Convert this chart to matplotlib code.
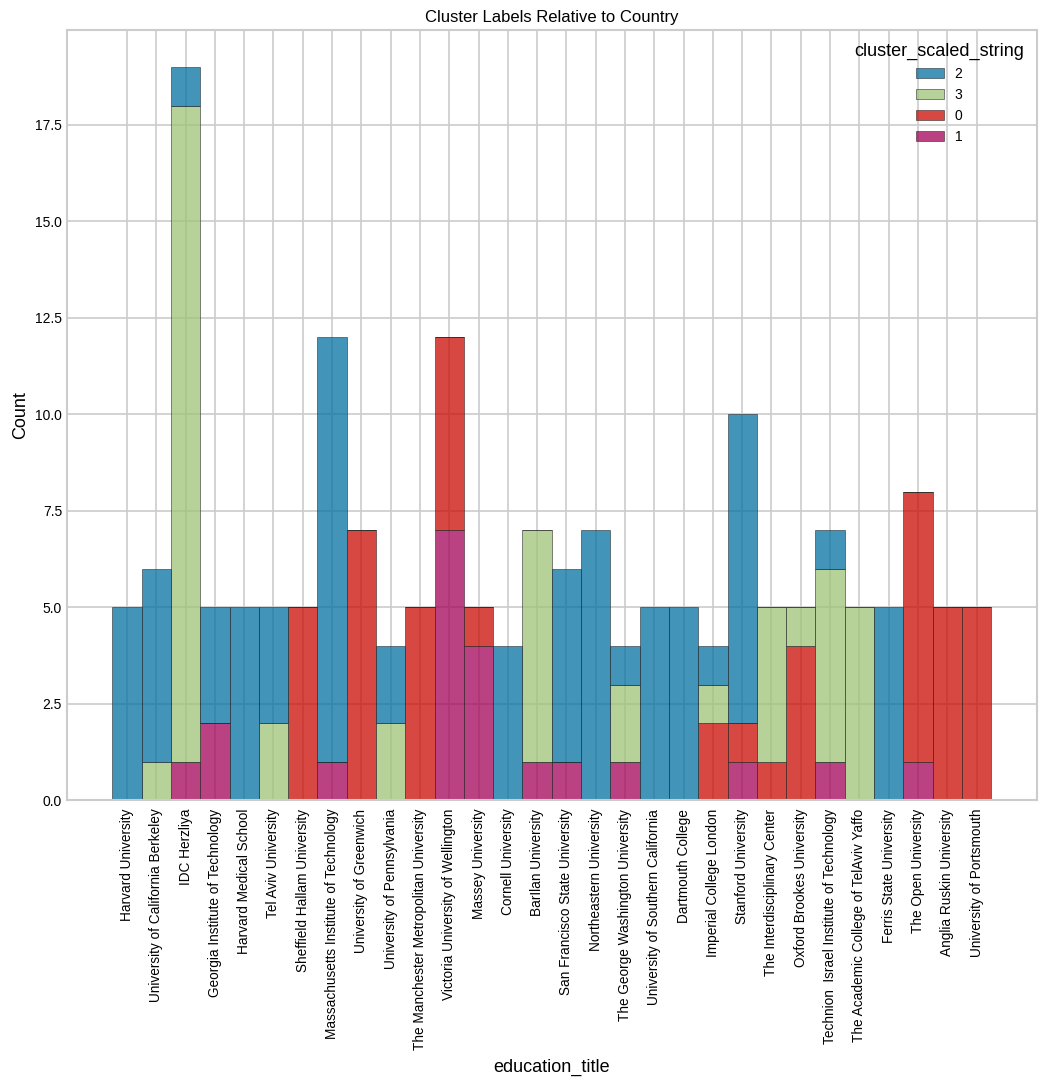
import numpy as np
import matplotlib
matplotlib.use("Agg")
import matplotlib.pyplot as plt
from matplotlib.patches import Patch

schools = [
    "Harvard University", "University of California Berkeley", "IDC Herzliya",
    "Georgia Institute of Technology", "Harvard Medical School", "Tel Aviv University",
    "Sheffield Hallam University", "Massachusetts Institute of Technology",
    "University of Greenwich", "University of Pennsylvania",
    "The Manchester Metropolitan University", "Victoria University of Wellington",
    "Massey University", "Cornell University", "BarIlan University",
    "San Francisco State University", "Northeastern University",
    "The George Washington University", "University of Southern California",
    "Dartmouth College", "Imperial College London", "Stanford University",
    "The Interdisciplinary Center", "Oxford Brookes University",
    "Technion  Israel Institute of Technology", "The Academic College of TelAviv Yaffo",
    "Ferris State University", "The Open University", "Anglia Ruskin University",
    "University of Portsmouth",
]

# counts per cluster, one value per school
cluster_1 = [0, 0, 1, 2, 0, 0, 0, 1, 0, 0, 0, 7, 4, 0, 1, 1, 0, 1, 0, 0, 0, 1, 0, 0, 1, 0, 0, 1, 0, 0]
cluster_0 = [0, 0, 0, 0, 0, 0, 5, 0, 7, 0, 5, 5, 1, 0, 0, 0, 0, 0, 0, 0, 2, 1, 1, 4, 0, 0, 0, 7, 5, 5]
cluster_3 = [0, 1, 17, 0, 0, 2, 0, 0, 0, 2, 0, 0, 0, 0, 6, 0, 0, 2, 0, 0, 1, 0, 4, 1, 5, 5, 0, 0, 0, 0]
cluster_2 = [5, 5, 1, 3, 5, 3, 0, 11, 0, 2, 0, 0, 0, 4, 0, 5, 7, 1, 5, 5, 1, 8, 0, 0, 1, 0, 5, 0, 0, 0]

legend_order = ["2", "3", "0", "1"]
colors = {"2": "#0272a2", "3": "#9fc377", "0": "#ca0b03", "1": "#a50258"}

plt.rcParams["font.family"] = ["Liberation Sans", "DejaVu Sans"]

fig, ax = plt.subplots(figsize=(10.46, 10.86), dpi=100)
fig.subplots_adjust(left=0.064, right=0.991, top=0.972, bottom=0.263)

x = np.arange(len(schools))
bottom = np.zeros(len(schools))
# stacked from bottom to top: 1, 0, 3, 2
for name, vals in [("1", cluster_1), ("0", cluster_0), ("3", cluster_3), ("2", cluster_2)]:
    vals = np.array(vals)
    ax.bar(x, vals, width=1.0, bottom=bottom, color=colors[name], alpha=0.75,
           edgecolor="#222222", linewidth=0.5)
    bottom = bottom + vals

ax.set_xticks(x)
ax.set_xticklabels(schools, rotation=90, fontsize=9.8)
ax.tick_params(axis="y", labelsize=10, length=0)
ax.tick_params(axis="x", length=0, pad=6)
ax.set_yticks([0, 2.5, 5, 7.5, 10, 12.5, 15, 17.5])
ax.set_xlim(-2.05, 31.05)
ax.set_ylim(0, 19.95)

ax.grid(True, color="#cccccc", linewidth=1.2)
ax.set_axisbelow(True)
for s in ax.spines.values():
    s.set_color("#cccccc")
    s.set_linewidth(1.5)

ax.set_xlabel("education_title", fontsize=13, labelpad=6)
ax.set_ylabel("Count", fontsize=13)
ax.set_title("Cluster Labels Relative to Country", fontsize=12)

handles = [Patch(facecolor=colors[k], alpha=0.75, edgecolor="#222222", linewidth=0.5) for k in legend_order]
ax.legend(handles, legend_order, title="cluster_scaled_string", loc="upper right",
          frameon=False, fontsize=10, title_fontsize=13)

fig.savefig("out.png")
